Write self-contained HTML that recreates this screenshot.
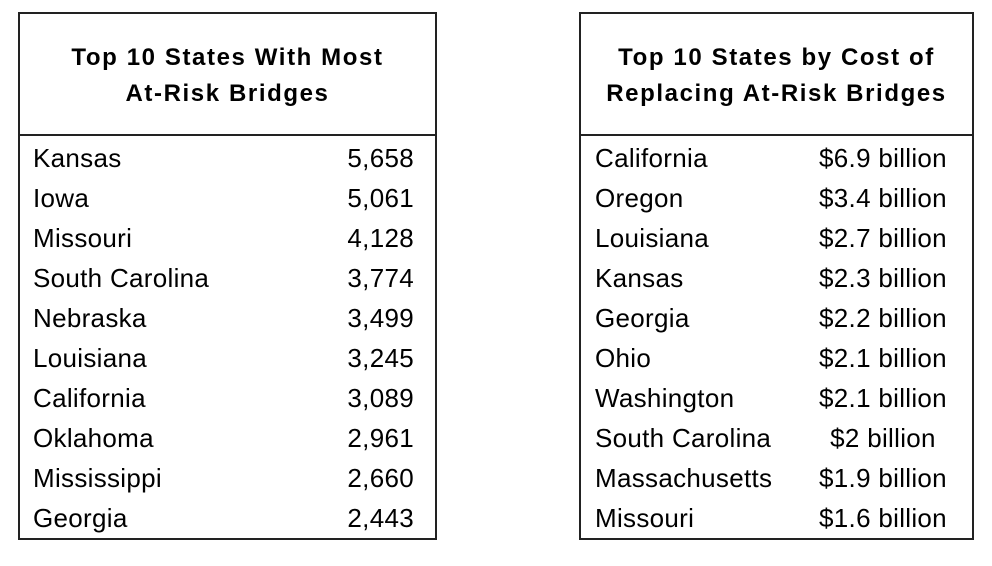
<!DOCTYPE html>
<html><head><meta charset="utf-8"><style>
body{margin:0;background:#fff;width:992px;height:566px;position:relative;overflow:hidden;font-family:"Liberation Sans",sans-serif;color:#000}
.box{position:absolute;border:2px solid #222;box-sizing:border-box}
.hd{position:absolute;left:0;right:0;border-bottom:2px solid #222;height:122px;top:0;box-sizing:border-box;text-align:center;font-weight:bold;font-size:24px;letter-spacing:1.6px;line-height:36px;padding-top:26px}
.r{position:absolute;height:40px;line-height:40px;font-size:26px;letter-spacing:0.3px;white-space:nowrap}
</style></head><body>
<div class="box" style="left:18px;top:12px;width:419px;height:528px">
<div class="hd">Top 10 States With Most<br>At-Risk Bridges</div>
</div>
<div class="box" style="left:579px;top:12px;width:395px;height:528px">
<div class="hd">Top 10 States by Cost of<br>Replacing At-Risk Bridges</div>
</div>
<div id="L"></div><div id="R"></div>
<script>
var a=[["Kansas","5,658"],["Iowa","5,061"],["Missouri","4,128"],["South Carolina","3,774"],["Nebraska","3,499"],["Louisiana","3,245"],["California","3,089"],["Oklahoma","2,961"],["Mississippi","2,660"],["Georgia","2,443"]];
var b=[["California","$6.9 billion"],["Oregon","$3.4 billion"],["Louisiana","$2.7 billion"],["Kansas","$2.3 billion"],["Georgia","$2.2 billion"],["Ohio","$2.1 billion"],["Washington","$2.1 billion"],["South Carolina","$2 billion"],["Massachusetts","$1.9 billion"],["Missouri","$1.6 billion"]];
var h="";
for(var i=0;i<10;i++){var t=138+40*i;
h+='<div class="r" style="left:33px;top:'+t+'px">'+a[i][0]+'</div>';
h+='<div class="r" style="right:578px;top:'+t+'px;text-align:right">'+a[i][1]+'</div>';
h+='<div class="r" style="left:595px;top:'+t+'px">'+b[i][0]+'</div>';
h+='<div class="r" style="left:803px;width:160px;top:'+t+'px;text-align:center">'+b[i][1]+'</div>';}
document.getElementById("L").innerHTML=h;
</script>
</body></html>
